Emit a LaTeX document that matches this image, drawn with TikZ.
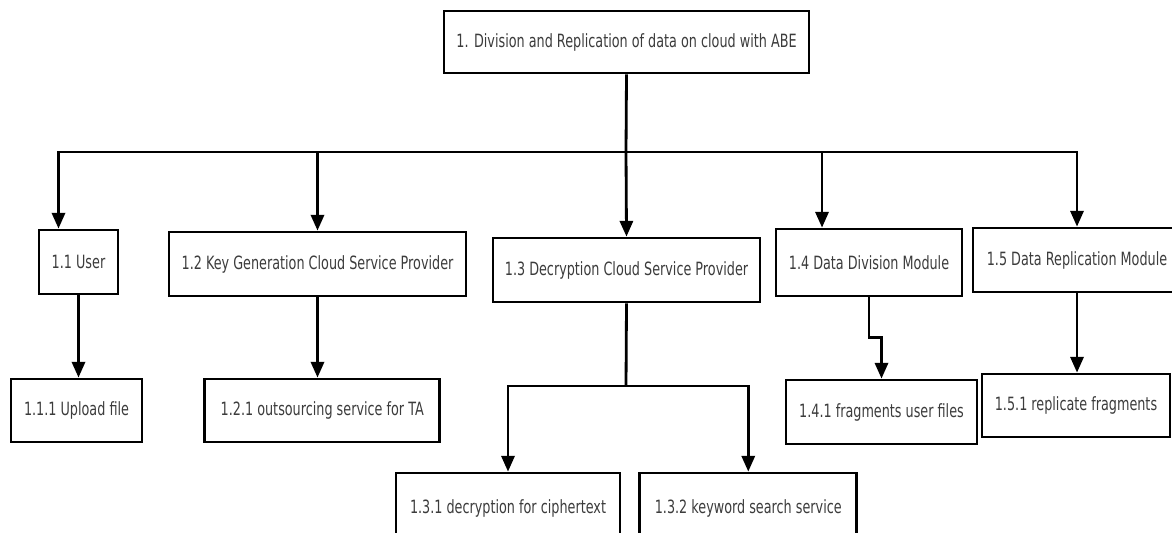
\documentclass[tikz,border=0pt]{standalone}
\usepackage{fontspec}
\setmainfont{DejaVu Sans}[FakeStretch=0.7]
\usetikzlibrary{positioning}
\usetikzlibrary{arrows.meta}
\tikzstyle{line} = [draw, -{Triangle[length=9pt, width=7.5pt]}, line width=1.6pt]
\tikzstyle{term} = [draw, line width=1.6pt]
\tikzstyle{box} = [draw, line width=1.6pt, text=textgray, minimum height=1.28cm,
  font=\fontsize{10.4}{12}\selectfont]
\definecolor{textgray}{RGB}{60, 60, 60}

\begin{document}
\begin{tikzpicture}[x=0.02cm, y=-0.02cm]

  \clip (0,0) rectangle (1172,532);

  % ============================== Top level ===================================

  \node[box, minimum width=7.3cm, minimum height=1.24cm] (root) at (626.5,42)
    {1. Division and Replication of data on cloud with ABE};

  % ============================== Modules =====================================

  \node[box, minimum width=1.58cm] (u) at (78.5,262) {1.1 User};
  \node[box, minimum width=5.94cm] (kg) at (317.5,264) {1.2 Key Generation Cloud Service Provider};
  \node[box, minimum width=5.34cm] (dc) at (626.5,270) {1.3 Decryption Cloud Service Provider};
  \node[box, minimum width=3.72cm, minimum height=1.34cm] (dd) at (869,262.5) {1.4 Data Division Module};
  \node[box, minimum width=4.16cm] (dr) at (1077,260) {1.5 Data Replication Module};

  % ============================ Sub modules ===================================

  \node[box, minimum width=2.62cm, minimum height=1.26cm] (ul) at (76.5,410.5) {1.1.1 Upload file};
  \node[box, minimum width=4.7cm, minimum height=1.26cm, right=1.2cm of ul] (os) {1.2.1 outsourcing service for TA};
  \node[box, minimum width=4.48cm, minimum height=1.4cm] (dcp) at (508,508) {1.3.1 decryption for ciphertext};
  \node[box, minimum width=4.34cm, minimum height=1.4cm, right=0.34cm of dcp] (ks) {1.3.2 keyword search service};
  \node[box, minimum width=3.82cm] (fu) at (881.5,412) {1.4.1 fragments user files};
  \node[box, minimum width=3.76cm, minimum height=1.26cm] (rf) at (1076,405.5) {1.5.1 replicate fragments};

  % ============================= Connect ======================================
  \coordinate (bus) at (626,152);
  \coordinate (split) at (626,386);
  \path[term] (root.south) -- (bus);
  \path[line] (bus) -- (dc.north);
  \path[line] (bus) -| ([xshift=-0.4cm]u.north);
  \path[line] (bus) -| ([xshift=-0.94cm]dd.north);
  \foreach \n in {kg, dr}
    \path[line] (bus) -| (\n.north);

  \path[line] (u.south) -- (u.south |- ul.north);
  \path[line] (kg.south) -- (kg.south |- os.north);
  \path[term] (dc.south) -- (split);
  \path[line] (split) -| (dcp.north);
  \path[line] (split) -| (ks.north);
  \path[line] (dd.south) -- ++(0,40) -| (fu.north);
  \path[line] (dr.south) -- (dr.south |- rf.north);

\end{tikzpicture}
\end{document}
